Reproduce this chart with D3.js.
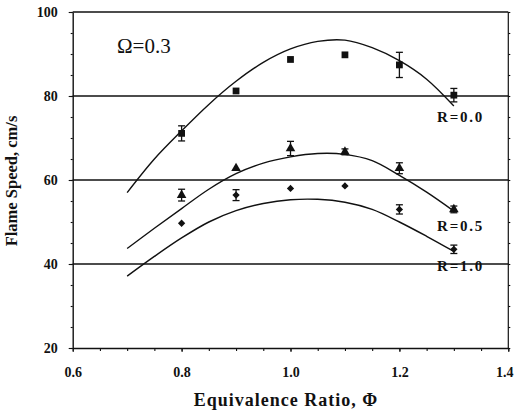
<!DOCTYPE html>
<html>
<head>
<meta charset="utf-8">
<script src="https://cdn.jsdelivr.net/npm/d3@7"></script>
<style>
  body { margin: 0; background: #fff; }
  svg { display: block; }
</style>
</head>
<body>
<div id="chart"></div>
<script>
// measured points
var phiPts = [0.8, 0.9, 1.0, 1.1, 1.2, 1.3];
var r00 = [71.1, 81.2, 88.7, 89.8, 87.4, 80.2];
var r00Err = [1.8, 0, 0, 0, 3.0, 1.6];
var r05 = [56.4, 62.8, 67.5, 66.7, 62.8, 53.0];
var r05Err = [1.4, 0, 1.7, 0.7, 1.3, 0.8];
var r10 = [49.7, 56.4, 58.0, 58.6, 53.0, 43.5];
var r10Err = [0, 1.3, 0, 0, 1.1, 1.0];

// fitted curves
var phiFit = [0.7, 0.75, 0.8, 0.85, 0.9, 0.95, 1.0, 1.05, 1.1, 1.15, 1.2, 1.25, 1.3];
var fit00 = [57.0, 65.0, 71.7, 78.0, 83.5, 88.0, 91.2, 93.0, 93.3, 91.5, 88.4, 84.0, 77.6];
var fit05 = [43.7, 48.5, 53.2, 57.8, 61.5, 64.0, 65.5, 66.3, 66.1, 64.6, 61.1, 57.1, 52.6];
var fit10 = [37.1, 41.8, 46.2, 50.0, 52.7, 54.4, 55.3, 55.4, 54.7, 53.0, 50.0, 46.6, 43.0];

var xTicks = [0.6, 0.8, 1.0, 1.2, 1.4];
var yTicks = [20, 40, 60, 80, 100];
var gridVals = [40, 60, 80, 100];

var serif = "'Liberation Serif', 'Times New Roman', serif";
var w = 516, h = 413;

var x = d3.scaleLinear().domain([0.6, 1.4]).range([72.7, 508.3]);
var y = d3.scaleLinear().domain([20, 100]).range([348, 12]);

var svg = d3.select("#chart").append("svg")
  .attr("width", w)
  .attr("height", h);

// gridlines + frame
svg.append("g").selectAll("line")
  .data(gridVals)
  .enter().append("line")
  .attr("x1", x(0.6)).attr("x2", x(1.4))
  .attr("y1", d => y(d)).attr("y2", d => y(d))
  .attr("stroke", "#111").attr("stroke-width", 1.4);

svg.append("line")
  .attr("x1", x(1.4)).attr("x2", x(1.4))
  .attr("y1", y(100)).attr("y2", y(20))
  .attr("stroke", "#111").attr("stroke-width", 1.2);

// minor ticks
svg.append("g")
  .attr("transform", "translate(" + x(0.6) + ",0)")
  .call(d3.axisLeft(y).tickValues(d3.range(20, 101, 5)).tickSize(2).tickFormat(""))
  .select(".domain").remove();
svg.append("g")
  .attr("transform", "translate(0," + y(20) + ")")
  .call(d3.axisBottom(x).tickValues(d3.range(0.6, 1.401, 0.05)).tickSize(3).tickFormat(""))
  .select(".domain").remove();
svg.append("g")
  .attr("transform", "translate(" + x(1.4) + ",0)")
  .call(d3.axisLeft(y).tickValues(d3.range(20, 101, 5)).tickSize(-2).tickFormat(""))
  .select(".domain").remove();

// axes
var yAxis = svg.append("g")
  .attr("transform", "translate(" + x(0.6) + ",0)")
  .call(d3.axisLeft(y).tickValues(yTicks).tickSize(4).tickPadding(11).tickSizeOuter(0));

var xAxis = svg.append("g")
  .attr("transform", "translate(0," + y(20) + ")")
  .call(d3.axisBottom(x).tickValues(xTicks).tickSize(4).tickPadding(15).tickSizeOuter(0)
    .tickFormat(d3.format(".1f")));

[yAxis, xAxis].forEach(function(a){
  a.attr("font-family", serif).attr("font-size", 14).attr("font-weight", "bold");
  a.selectAll("text").attr("fill", "#111");
  a.select(".domain").attr("stroke", "#111").attr("stroke-width", 1.4);
});
svg.selectAll(".tick line").attr("stroke", "#111").attr("stroke-width", 1.1);
// last label sits on the page edge
xAxis.selectAll(".tick text").filter(d => d === 1.4).attr("dx", -4);

// curves
var line = d3.line()
  .x((d, i) => x(phiFit[i]))
  .y(d => y(d))
  .curve(d3.curveCatmullRom);

[fit00, fit05, fit10].forEach(function(f){
  svg.append("path")
    .datum(f)
    .attr("d", line)
    .attr("fill", "none")
    .attr("stroke", "#111")
    .attr("stroke-width", 1.4);
});

// points with error bars
var series = [
  { vals: r00, err: r00Err, sym: d3.symbolSquare, size: 46 },
  { vals: r05, err: r05Err, sym: d3.symbolTriangle, size: 40 },
  { vals: r10, err: r10Err, sym: d3.symbolDiamond2, size: 34 }
];

series.forEach(function(s){
  var g = svg.append("g");
  s.vals.forEach(function(v, i){
    var cx = x(phiPts[i]);
    var e = s.err[i];
    if (e > 0) {
      g.append("line")
        .attr("x1", cx).attr("x2", cx)
        .attr("y1", y(v + e)).attr("y2", y(v - e))
        .attr("stroke", "#111").attr("stroke-width", 1.3);
      [v + e, v - e].forEach(function(c){
        g.append("line")
          .attr("x1", cx - 3.5).attr("x2", cx + 3.5)
          .attr("y1", y(c)).attr("y2", y(c))
          .attr("stroke", "#111").attr("stroke-width", 1.3);
      });
    }
    g.append("path")
      .attr("d", d3.symbol().type(s.sym).size(s.size))
      .attr("transform", "translate(" + cx + "," + y(v) + ")")
      .attr("fill", "#111");
  });
});

// labels
svg.append("text")
  .attr("x", 117).attr("y", 52.5)
  .attr("font-family", serif).attr("font-size", 21)
  .attr("fill", "#111")
  .text("Ω=0.3");

var rLabels = [["R=0.0", 122], ["R=0.5", 231], ["R=1.0", 271]];
rLabels.forEach(function(d){
  svg.append("text")
    .attr("x", 437).attr("y", d[1])
    .attr("font-family", serif)
    .attr("font-size", 15).attr("font-weight", "bold")
    .attr("letter-spacing", 1.8)
    .attr("fill", "#111")
    .text(d[0]);
});

svg.append("text")
  .attr("x", 286).attr("y", 406)
  .attr("text-anchor", "middle")
  .attr("font-family", serif)
  .attr("font-size", 18).attr("font-weight", "bold")
  .attr("letter-spacing", 1)
  .attr("fill", "#111")
  .text("Equivalence Ratio, Φ");

svg.append("text")
  .attr("transform", "translate(17,181) rotate(-90)")
  .attr("text-anchor", "middle")
  .attr("font-family", serif)
  .attr("font-size", 16.5).attr("font-weight", "bold")
  .attr("fill", "#111")
  .text("Flame Speed, cm/s");
</script>
</body>
</html>
